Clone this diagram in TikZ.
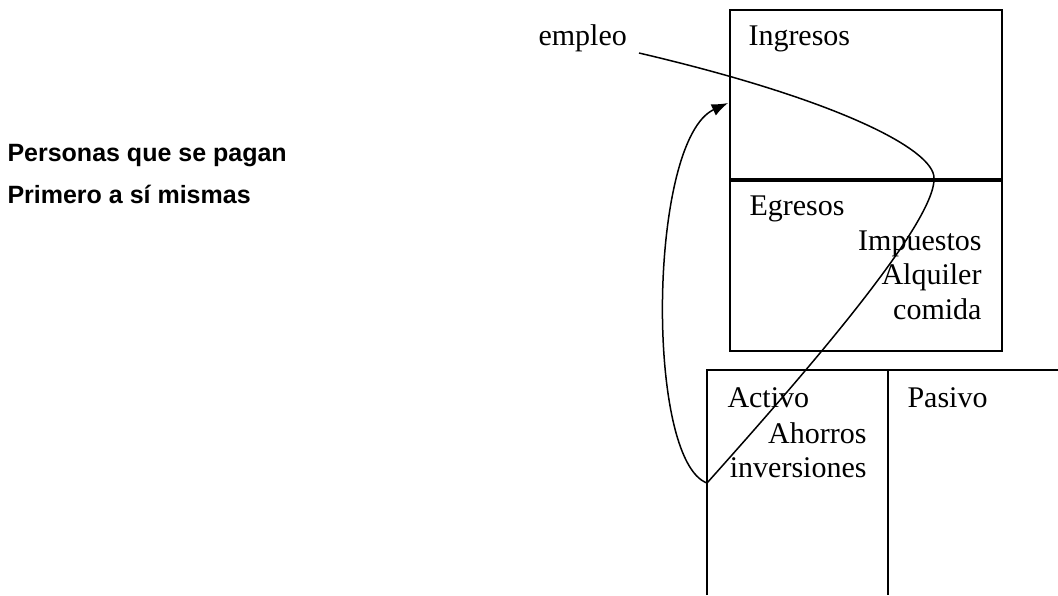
\documentclass[tikz,border=0pt]{standalone}
\usepackage{fontspec}
\setmainfont{Liberation Serif}
\setsansfont{Liberation Sans}
\usetikzlibrary{arrows.meta,positioning}

\begin{document}
\begin{tikzpicture}[x=0.4pt,y=-0.4pt,
   caja/.style={draw,line width=0.8pt,inner sep=0pt,anchor=north west},
   texto/.style={inner sep=0pt,font=\fontsize{12}{13.8}\selectfont},
   titulo/.style={inner sep=0pt,font=\sffamily\bfseries\fontsize{10}{12}\selectfont},
   flujo/.style={line width=0.6pt}]

   \useasboundingbox (0,0) rectangle (1058,595);

   % titulo a la izquierda
   \node[titulo,anchor=base west] (personas) at (7,161) {Personas que se pagan};
   \node[titulo,anchor=base west] (primero) at (7,203) {Primero a sí mismas};

   % cajas de ingresos y egresos
   \node[caja,minimum width=108.8pt,minimum height=67.6pt] (ingresos) at (729,9) {};
   \node[caja,minimum width=108.8pt,minimum height=68pt] (egresos) at (ingresos.south west) {};

   % tabla activo / pasivo
   \coordinate (tabla) at (707,370);
   \coordinate (medio) at (888,370);
   \draw[line width=0.8pt] (tabla |- 0,595) -- (tabla) -- (1058,370);
   \draw[line width=0.8pt] (medio) -- (medio |- 0,595);

   % textos
   \node[texto,anchor=base west] (empleo) at (538,45) {empleo};
   \node[texto,anchor=base west] (ting) at (748,45) {Ingresos};
   \node[texto,anchor=base west] (tegr) at (749,215) {Egresos};
   \node[texto,anchor=base east] (impuestos) at (982,250) {Impuestos};
   \node[texto] (alquiler) [below=13.8pt of impuestos.base east,anchor=base east] {Alquiler};
   \node[texto] (comida) [below=13.8pt of alquiler.base east,anchor=base east] {comida};
   \node[texto,anchor=base west] (activo) at (727,407) {Activo};
   \node[texto,anchor=base west] (pasivo) at (907,407) {Pasivo};
   \node[texto,anchor=base east] (ahorros) at (867,443) {Ahorros};
   \node[texto] (inversiones) [below=13.8pt of ahorros.base east,anchor=base east] {inversiones};

   % recorrido del dinero
   \coordinate (salida) at (639,53);
   \coordinate (giro) at (934,178);
   \coordinate (fondo) at (707,483);
   \coordinate (llegada) at (728,103);
   \draw[flujo,-{Latex[length=6.5pt,width=5pt]}] (salida)
      .. controls (840,100) and (934,150) .. (giro)
      .. controls (936,225) and (790,390) .. (fondo)
      .. controls (645,460) and (648,140) .. (llegada);

\end{tikzpicture}
\end{document}
